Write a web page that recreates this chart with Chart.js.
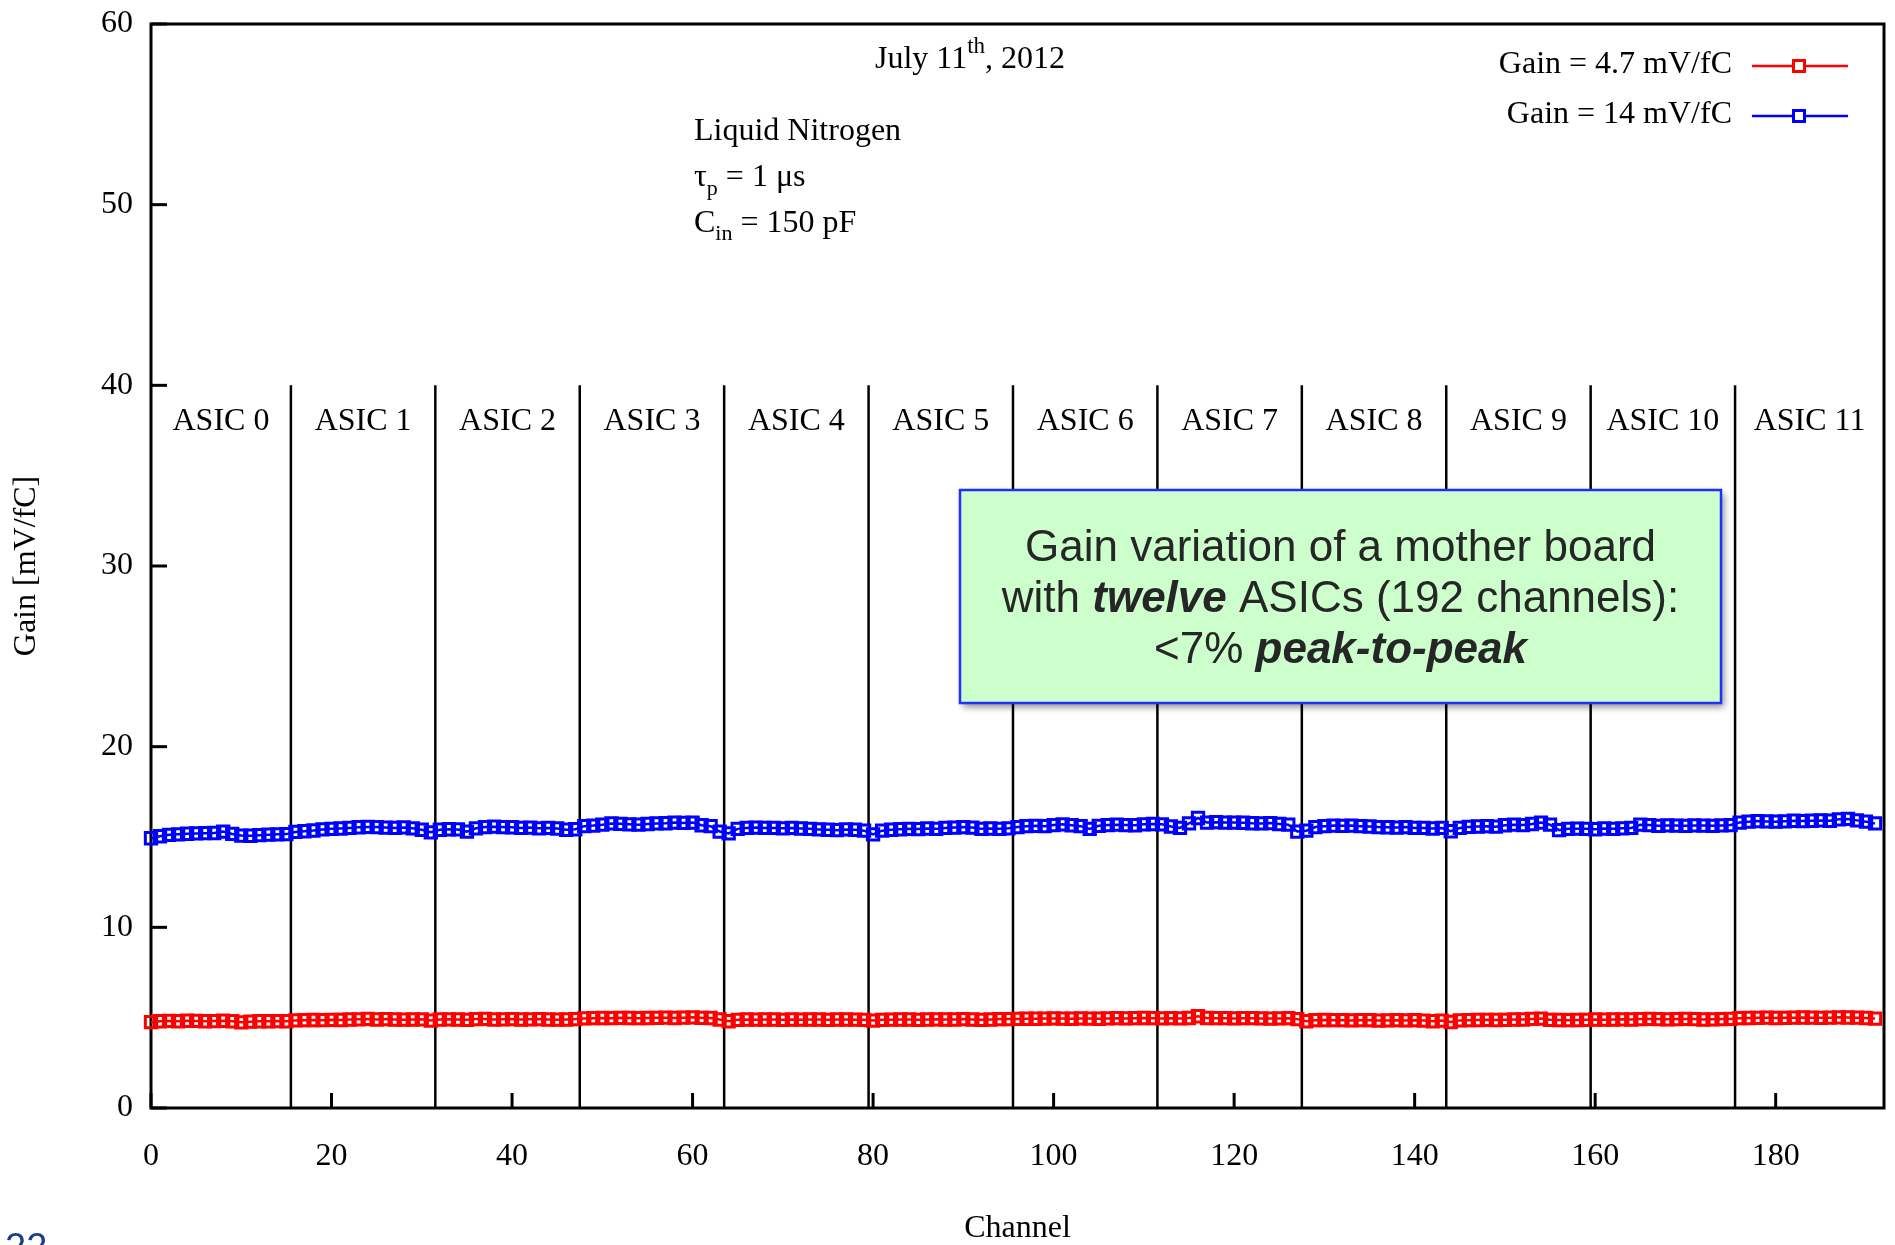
<!DOCTYPE html>
<html lang="en">
<head>
<meta charset="utf-8">
<title>Gain vs Channel</title>
<script src="https://cdn.jsdelivr.net/npm/chart.js@4.4.0/dist/chart.umd.min.js"></script>
<style>
  html, body { margin: 0; padding: 0; background: #fff; }
  canvas { display: block; }
</style>
</head>
<body>
<canvas id="gainChart" width="1895" height="1245"></canvas>
<script>
'use strict';

/** Data */
// one row per ASIC, 16 channels each
let gainLow = [
  4.75, 4.80, 4.82, 4.80, 4.83, 4.82, 4.80, 4.81, 4.83, 4.80, 4.74, 4.78, 4.80, 4.80, 4.81, 4.80,
  4.85, 4.86, 4.87, 4.86, 4.88, 4.87, 4.90, 4.91, 4.93, 4.90, 4.92, 4.90, 4.89, 4.90, 4.91, 4.84,
  4.90, 4.91, 4.90, 4.88, 4.92, 4.93, 4.90, 4.91, 4.92, 4.90, 4.91, 4.92, 4.90, 4.89, 4.90, 4.92,
  4.96, 4.97, 4.98, 4.97, 4.99, 4.98, 4.97, 4.98, 4.99, 5.00, 4.98, 5.00, 5.02, 4.99, 4.98, 4.90,
  4.80, 4.88, 4.90, 4.89, 4.90, 4.90, 4.88, 4.90, 4.89, 4.90, 4.90, 4.88, 4.90, 4.90, 4.89, 4.88,
  4.84, 4.88, 4.89, 4.90, 4.90, 4.88, 4.90, 4.91, 4.90, 4.90, 4.92, 4.90, 4.88, 4.90, 4.92, 4.92,
  4.93, 4.94, 4.94, 4.95, 4.96, 4.95, 4.94, 4.96, 4.95, 4.94, 4.96, 4.97, 4.96, 4.97, 4.98, 4.97,
  4.96, 4.97, 4.96, 4.98, 5.08, 4.98, 4.97, 4.97, 4.96, 4.97, 4.97, 4.96, 4.95, 4.96, 4.97, 4.92,
  4.80, 4.86, 4.87, 4.86, 4.86, 4.85, 4.86, 4.86, 4.84, 4.85, 4.86, 4.85, 4.86, 4.84, 4.80, 4.84,
  4.76, 4.85, 4.86, 4.87, 4.88, 4.87, 4.88, 4.90, 4.90, 4.93, 4.95, 4.88, 4.87, 4.86, 4.87, 4.88,
  4.90, 4.89, 4.90, 4.91, 4.90, 4.92, 4.93, 4.92, 4.91, 4.92, 4.93, 4.92, 4.90, 4.91, 4.92, 4.93,
  4.97, 4.98, 4.99, 5.00, 4.98, 4.99, 5.00, 5.01, 5.00, 4.99, 5.00, 5.02, 5.01, 5.00, 4.98, 4.95
];

let gainHigh = [
  14.93, 15.04, 15.12, 15.15, 15.18, 15.20, 15.21, 15.22, 15.30, 15.17, 15.08, 15.07, 15.10, 15.13, 15.15, 15.16,
  15.28, 15.32, 15.36, 15.42, 15.45, 15.47, 15.50, 15.54, 15.56, 15.55, 15.52, 15.50, 15.53, 15.48, 15.40, 15.26,
  15.40, 15.43, 15.42, 15.30, 15.48, 15.55, 15.57, 15.55, 15.54, 15.50, 15.52, 15.48, 15.50, 15.47, 15.40, 15.43,
  15.60, 15.63, 15.68, 15.75, 15.73, 15.70, 15.68, 15.72, 15.75, 15.76, 15.80, 15.78, 15.80, 15.65, 15.60, 15.30,
  15.20, 15.45, 15.50, 15.52, 15.50, 15.50, 15.48, 15.50, 15.47, 15.45, 15.42, 15.40, 15.38, 15.42, 15.40, 15.35,
  15.15, 15.35, 15.40, 15.43, 15.45, 15.44, 15.47, 15.45, 15.50, 15.52, 15.55, 15.52, 15.45, 15.47, 15.45, 15.48,
  15.55, 15.60, 15.62, 15.60, 15.66, 15.70, 15.65, 15.60, 15.45, 15.62, 15.66, 15.68, 15.66, 15.65, 15.70, 15.72,
  15.70, 15.58, 15.50, 15.75, 16.05, 15.80, 15.82, 15.80, 15.80, 15.79, 15.76, 15.75, 15.77, 15.72, 15.68, 15.30,
  15.35, 15.55, 15.60, 15.63, 15.62, 15.63, 15.60, 15.58, 15.55, 15.54, 15.52, 15.55, 15.50, 15.50, 15.47, 15.50,
  15.32, 15.50, 15.56, 15.58, 15.60, 15.57, 15.65, 15.68, 15.66, 15.72, 15.80, 15.68, 15.38, 15.45, 15.46, 15.45,
  15.43, 15.47, 15.45, 15.48, 15.50, 15.68, 15.66, 15.62, 15.64, 15.63, 15.62, 15.64, 15.63, 15.62, 15.64, 15.66,
  15.80, 15.85, 15.88, 15.86, 15.85, 15.87, 15.90, 15.88, 15.90, 15.92, 15.90, 15.98, 16.00, 15.92, 15.85, 15.75
];

let xTicks = [0, 20, 40, 60, 80, 100, 120, 140, 160, 180];
let yTicks = [0, 10, 20, 30, 40, 50, 60];

let asicNames = ['ASIC 0', 'ASIC 1', 'ASIC 2', 'ASIC 3', 'ASIC 4', 'ASIC 5',
  'ASIC 6', 'ASIC 7', 'ASIC 8', 'ASIC 9', 'ASIC 10', 'ASIC 11'];
let asicBounds = [0, 15.5, 31.5, 47.5, 63.5, 79.5, 95.5, 111.5, 127.5, 143.5, 159.5, 175.5, 192];
let asicTop = 40;

/** DOM */
let ctx = document.getElementById('gainChart');

let serif = '"Liberation Serif", "Times New Roman", serif';
let sans = '"Liberation Sans", Arial, sans-serif';

/** Helpers */

// draw a row of text pieces (sub/superscripts, bold bits) one after another
function drawRuns(c, x, y, runs) {
  for (let r of runs) {
    c.font = (r.style || '') + ' ' + r.size + 'px ' + (r.family || serif);
    c.fillText(r.text, x, y + (r.dy || 0));
    x += c.measureText(r.text).width;
  }
}

function runsWidth(c, runs) {
  let w = 0;
  for (let r of runs) {
    c.font = (r.style || '') + ' ' + r.size + 'px ' + (r.family || serif);
    w += c.measureText(r.text).width;
  }
  return w;
}

function line(c, x1, y1, x2, y2) {
  c.beginPath();
  c.moveTo(x1, y1);
  c.lineTo(x2, y2);
  c.stroke();
}

function square(c, x, y, half) {
  c.strokeRect(x - half, y - half, half * 2, half * 2);
}

// frame, inward ticks, ASIC separators and names
let decorPlugin = {
  id: 'decor',
  beforeDatasetsDraw(chart) {
    let c = chart.ctx;
    let a = chart.chartArea;
    let xs = chart.scales.x;
    let ys = chart.scales.y;
    c.save();
    c.strokeStyle = '#000';

    c.lineWidth = 2.5;
    let yTop = ys.getPixelForValue(asicTop);
    for (let i = 1; i < asicBounds.length - 1; i++) {
      let px = xs.getPixelForValue(asicBounds[i]);
      line(c, px, yTop, px, a.bottom);
    }

    c.lineWidth = 3;
    for (let v of yTicks) {
      let py = ys.getPixelForValue(v);
      line(c, a.left, py, a.left + 16, py);
    }
    for (let v of xTicks) {
      let px = xs.getPixelForValue(v);
      line(c, px, a.bottom, px, a.bottom - 15);
    }
    c.strokeRect(a.left, a.top, a.right - a.left, a.bottom - a.top);

    c.fillStyle = '#000';
    c.font = '32px ' + serif;
    c.textAlign = 'center';
    c.textBaseline = 'middle';
    for (let i = 0; i < asicNames.length; i++) {
      let mid = (asicBounds[i] + asicBounds[i + 1]) / 2;
      c.fillText(asicNames[i], xs.getPixelForValue(mid), yTop + 36);
    }
    c.restore();
  },

  afterDraw(chart) {
    let c = chart.ctx;
    c.save();
    c.fillStyle = '#000';
    c.textAlign = 'left';
    c.textBaseline = 'alphabetic';

    // date and run conditions
    drawRuns(c, 875, 68, [
      { text: 'July 11', size: 32 },
      { text: 'th', size: 23, dy: -15 },
      { text: ', 2012', size: 32 }
    ]);
    drawRuns(c, 694, 140, [{ text: 'Liquid Nitrogen', size: 32 }]);
    drawRuns(c, 694, 186, [
      { text: 'τ', size: 32 },
      { text: 'p', size: 22, dy: 9 },
      { text: ' = 1 μs', size: 32 }
    ]);
    drawRuns(c, 694, 232, [
      { text: 'C', size: 32 },
      { text: 'in', size: 22, dy: 8 },
      { text: ' = 150 pF', size: 32 }
    ]);

    // legend: label on the left, line sample with marker on the right
    let rows = [72.5, 122.5];
    chart.data.datasets.forEach((ds, i) => {
      c.font = '32px ' + serif;
      c.textAlign = 'right';
      c.fillStyle = '#000';
      c.fillText(ds.label, 1732, rows[i]);
      let ly = rows[i] - 6.5;
      c.strokeStyle = ds.borderColor;
      c.lineWidth = 2.5;
      line(c, 1752, ly, 1848, ly);
      c.fillStyle = '#fff';
      c.fillRect(1794, ly - 5, 10, 10);
      c.lineWidth = 3;
      square(c, 1799, ly, 5.5);
    });

    // summary box
    let box = { x: 960, y: 490, w: 761, h: 213 };
    c.save();
    c.shadowColor = 'rgba(0, 0, 0, 0.45)';
    c.shadowBlur = 7;
    c.shadowOffsetX = 3;
    c.shadowOffsetY = 4;
    c.fillStyle = '#ccffcc';
    c.fillRect(box.x, box.y, box.w, box.h);
    c.restore();
    c.strokeStyle = '#1f2fff';
    c.lineWidth = 2.5;
    c.strokeRect(box.x, box.y, box.w, box.h);

    let fs = 44;
    let boxLines = [
      [{ text: 'Gain variation of a mother board', size: fs, family: sans }],
      [{ text: 'with ', size: fs, family: sans },
        { text: 'twelve', size: fs, family: sans, style: 'italic bold' },
        { text: ' ASICs (192 channels):', size: fs, family: sans }],
      [{ text: '<7% ', size: fs, family: sans },
        { text: 'peak-to-peak', size: fs, family: sans, style: 'italic bold' }]
    ];
    let baselines = [561, 612, 663];
    c.textAlign = 'left';
    c.fillStyle = '#262626';
    boxLines.forEach((runs, i) => {
      let w = runsWidth(c, runs);
      drawRuns(c, box.x + box.w / 2 - w / 2, baselines[i], runs);
    });

    // page number peeking in at the bottom corner
    c.fillStyle = '#1f3c8c';
    c.font = '38px ' + sans;
    c.fillText('22', 5, 1260);
    c.restore();
  }
};

/** Chart */
function points(values) {
  return values.map((v, i) => ({ x: i, y: v }));
}

function series(label, values, color) {
  return {
    label: label,
    data: points(values),
    borderColor: color,
    borderWidth: 2.5,
    pointStyle: 'rect',
    pointRadius: 8,
    pointBorderWidth: 3,
    pointBorderColor: color,
    pointBackgroundColor: 'rgba(0, 0, 0, 0)',
    tension: 0,
    fill: false,
    clip: false
  };
}

// the frame is placed by layout padding alone, not by tick label overflow
function noLabelPadding(axis) {
  axis.paddingTop = 0;
  axis.paddingBottom = 0;
  axis.paddingLeft = 0;
  axis.paddingRight = 0;
}

let chartObj = {
  type: 'line',
  data: {
    datasets: [
      series('Gain = 4.7 mV/fC', gainLow, '#ff0000'),
      series('Gain = 14 mV/fC', gainHigh, '#0000ff')
    ]
  },
  options: {
    responsive: false,
    animation: false,
    devicePixelRatio: 1,
    layout: { padding: { top: 24, right: 9, left: 0, bottom: 0 } },
    plugins: {
      legend: { display: false },
      tooltip: { enabled: false }
    },
    scales: {
      x: {
        type: 'linear',
        position: 'bottom',
        min: 0,
        max: 192,
        grid: { display: false, drawTicks: false },
        border: { display: false },
        afterBuildTicks: (axis) => { axis.ticks = xTicks.map(v => ({ value: v })); },
        afterFit: (axis) => { axis.height = 137; noLabelPadding(axis); },
        ticks: { color: '#000', padding: 29, maxRotation: 0, font: { family: serif, size: 32 } },
        title: {
          display: true,
          text: 'Channel',
          color: '#000',
          font: { family: serif, size: 32, lineHeight: 1 },
          padding: { top: 0, bottom: 0 }
        }
      },
      y: {
        type: 'linear',
        min: 0,
        max: 60,
        grid: { display: false, drawTicks: false },
        border: { display: false },
        afterBuildTicks: (axis) => { axis.ticks = yTicks.map(v => ({ value: v })); },
        afterFit: (axis) => { axis.width = 151; noLabelPadding(axis); },
        ticks: { color: '#000', padding: 18, font: { family: serif, size: 32 } },
        title: {
          display: true,
          text: 'Gain [mV/fC]',
          color: '#000',
          font: { family: serif, size: 32, lineHeight: 1 },
          padding: { top: 11, bottom: 0 }
        }
      }
    }
  },
  plugins: [decorPlugin]
};

new Chart(ctx, chartObj);
</script>
</body>
</html>
